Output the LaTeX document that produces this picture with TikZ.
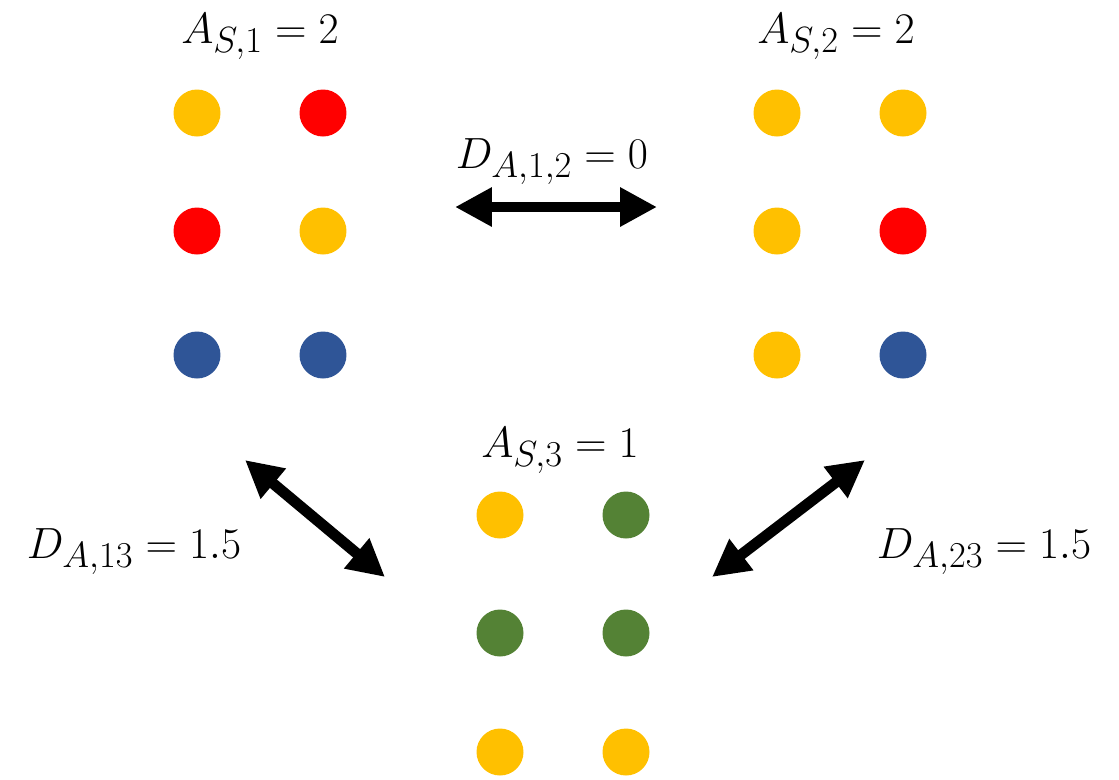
\documentclass[tikz,border=0pt]{standalone}
\usetikzlibrary{arrows.meta}
\definecolor{dotyellow}{HTML}{FFC000}
\definecolor{dotred}{HTML}{FF0000}
\definecolor{dotblue}{HTML}{2F5597}
\definecolor{dotgreen}{HTML}{548235}
\tikzset{
  dot/.style={circle,fill=#1,inner sep=0pt,minimum size=0.94cm},
  dist/.style={line width=6.2pt,{Triangle[length=0.74cm,width=0.74cm]}-{Triangle[length=0.74cm,width=0.74cm]}},
  lab/.style={anchor=base,font=\fontsize{31}{37}\selectfont}
}
\begin{document}
\begin{tikzpicture}[x=0.02cm,y=-0.02cm]
 \useasboundingbox (0,0) rectangle (1119,779);
 % sample 1
 \node[dot=dotyellow] (s1a) at (197,113) {};
 \node[dot=dotred]    (s1b) at (323,113) {};
 \node[dot=dotred]    (s1c) at (197,231) {};
 \node[dot=dotyellow] (s1d) at (323,231) {};
 \node[dot=dotblue]   (s1e) at (197,355) {};
 \node[dot=dotblue]   (s1f) at (323,355) {};
 % sample 2
 \node[dot=dotyellow] (s2a) at (777,113) {};
 \node[dot=dotyellow] (s2b) at (903,113) {};
 \node[dot=dotyellow] (s2c) at (777,231) {};
 \node[dot=dotred]    (s2d) at (903,231) {};
 \node[dot=dotyellow] (s2e) at (777,355) {};
 \node[dot=dotblue]   (s2f) at (903,355) {};
 % sample 3
 \node[dot=dotyellow] (s3a) at (500,515) {};
 \node[dot=dotgreen]  (s3b) at (626,515) {};
 \node[dot=dotgreen]  (s3c) at (500,633) {};
 \node[dot=dotgreen]  (s3d) at (626,633) {};
 \node[dot=dotyellow] (s3e) at (500,752) {};
 \node[dot=dotyellow] (s3f) at (626,752) {};
 % labels
 \node[lab] (as1) at (260,43) {$A_{S,1}=2$};
 \node[lab] (as2) at (836,43) {$A_{S,2}=2$};
 \node[lab] (as3) at (560,457) {$A_{S,3}=1$};
 \node[lab] (d12) at (552,168) {$D_{A,1,2}=0$};
 \node[lab] (d13) at (134,558) {$D_{A,13}=1.5$};
 \node[lab] (d23) at (984,558) {$D_{A,23}=1.5$};
 % distances
 \coordinate (e12l) at (455,207);
 \coordinate (e12r) at (657,207);
 \coordinate (e13a) at (245,460);
 \coordinate (e13b) at (385,577);
 \coordinate (e23a) at (865,460);
 \coordinate (e23b) at (712,577);
 \draw[dist] (e12l) -- (e12r);
 \draw[dist] (e13a) -- (e13b);
 \draw[dist] (e23a) -- (e23b);
\end{tikzpicture}
\end{document}
